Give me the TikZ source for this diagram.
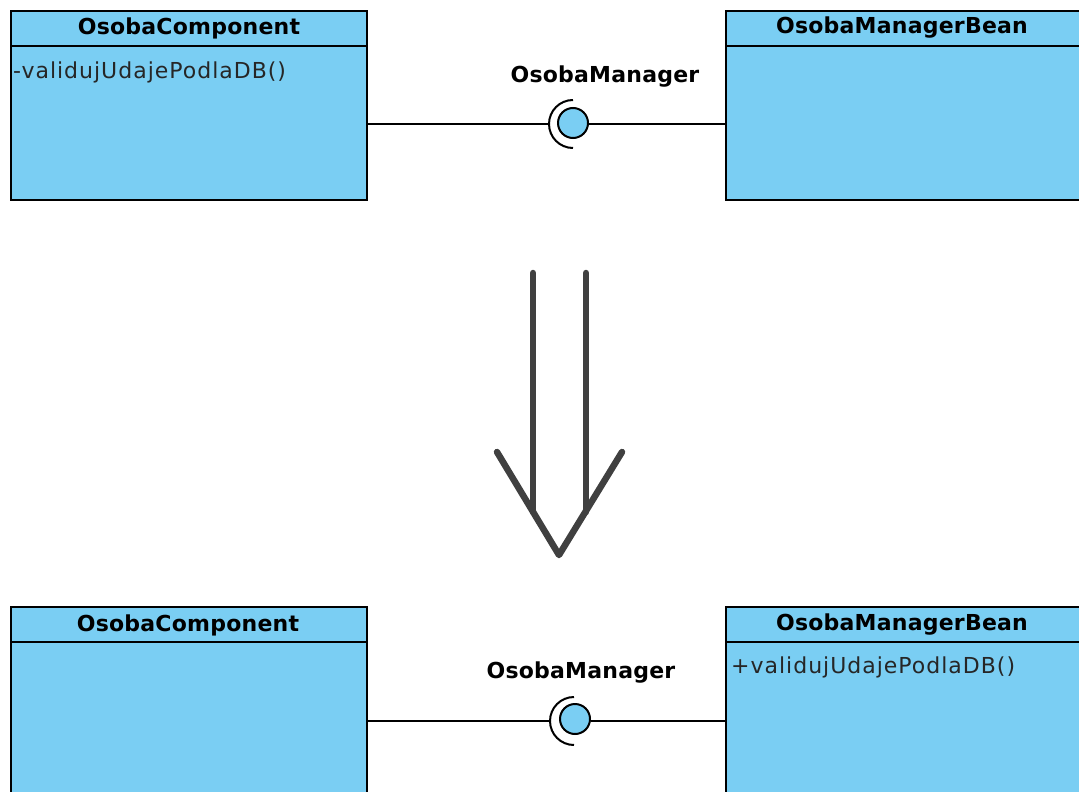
\documentclass[tikz,border=0pt]{standalone}
\usepackage{fontspec}
\setmainfont{DejaVu Sans}
\newfontfamily\hdrfont[LetterSpace=1]{DejaVu Sans}
\newfontfamily\methfont[LetterSpace=4.5]{DejaVu Sans}
\definecolor{classfill}{HTML}{7ACEF3}
\definecolor{arrowgray}{HTML}{404040}
\begin{document}
\begin{tikzpicture}[x=1pt,y=-1pt,
  classbox/.style={draw=black, line width=2pt, fill=classfill, anchor=north west,
    inner sep=0pt, minimum width=#1},
  hdr/.style={inner sep=0pt, font=\hdrfont\bfseries\fontsize{22}{26}\selectfont},
  meth/.style={inner sep=0pt, anchor=west, text=black!85,
    font=\methfont\fontsize{22}{26}\selectfont},
  conn/.style={draw=black, line width=2pt},
  ball/.style={circle, draw=black, line width=2pt, fill=classfill,
    minimum size=30pt, inner sep=0pt},
  bigarrow/.style={draw=arrowgray, line width=6.5pt, line cap=round, line join=round}]
\useasboundingbox (0,0) rectangle (1079,792);

% ---- upper pair of classes ----
\node[classbox=356pt, minimum height=189pt] (ca) at (10,10) {};
\node[classbox=362pt, minimum height=189pt] (ma) at (725,10) {};
\draw[conn] ([yshift=-36pt]ca.north west) -- ([yshift=-36pt]ca.north east);
\draw[conn] ([yshift=-36pt]ma.north west) -- ([yshift=-36pt]ma.north east);
\node[hdr] (cat) at ([yshift=-18pt]ca.north) {OsobaComponent};
\node[hdr] (mat) at (902,28) {OsobaManagerBean};
\node[meth] (cam) at ([xshift=3pt,yshift=-62pt]ca.north west) {-validujUdajePodlaDB()};

% provided / required interface
\coordinate (sa) at (573,124);
\node[ball] (ba) at (573,123) {};
\draw[conn] (sa) ++(0pt,24pt) arc[start angle=90, end angle=270, radius=24pt];
\draw[conn] (ca.east |- sa) -- ([xshift=-24pt]sa);
\draw[conn] (ba.east |- sa) -- (ma.west |- sa);
\node[hdr] (ia) at (605,77) {OsobaManager};

% ---- transition arrow ----
\coordinate (l1) at (533,273);
\coordinate (l2) at (533,512);
\coordinate (r1) at (586,273);
\coordinate (r2) at (586,512);
\coordinate (vl) at (497,452);
\coordinate (vt) at (559,555);
\coordinate (vr) at (622,452);
\draw[bigarrow] (l1) -- (l2);
\draw[bigarrow] (r1) -- (r2);
\draw[bigarrow] (vl) -- (vt) -- (vr);

% ---- lower pair of classes ----
\node[classbox=356pt, minimum height=200pt] (cb) at (10,606) {};
\node[classbox=362pt, minimum height=200pt] (mb) at (725,606) {};
\draw[conn] ([yshift=-36pt]cb.north west) -- ([yshift=-36pt]cb.north east);
\draw[conn] ([yshift=-36pt]mb.north west) -- ([yshift=-36pt]mb.north east);
\node[hdr] (cbt) at (188,625) {OsobaComponent};
\node[hdr] (mbt) at (902,625) {OsobaManagerBean};
\node[meth] (mbm) at (731,667) {+validujUdajePodlaDB()};

\coordinate (sb) at (574,721);
\node[ball] (bb) at (575,719) {};
\draw[conn] (sb) ++(0pt,24pt) arc[start angle=90, end angle=270, radius=24pt];
\draw[conn] (cb.east |- sb) -- ([xshift=-24pt]sb);
\draw[conn] (bb.east |- sb) -- (mb.west |- sb);
\node[hdr] (ib) at (581,673) {OsobaManager};
\end{tikzpicture}
\end{document}
